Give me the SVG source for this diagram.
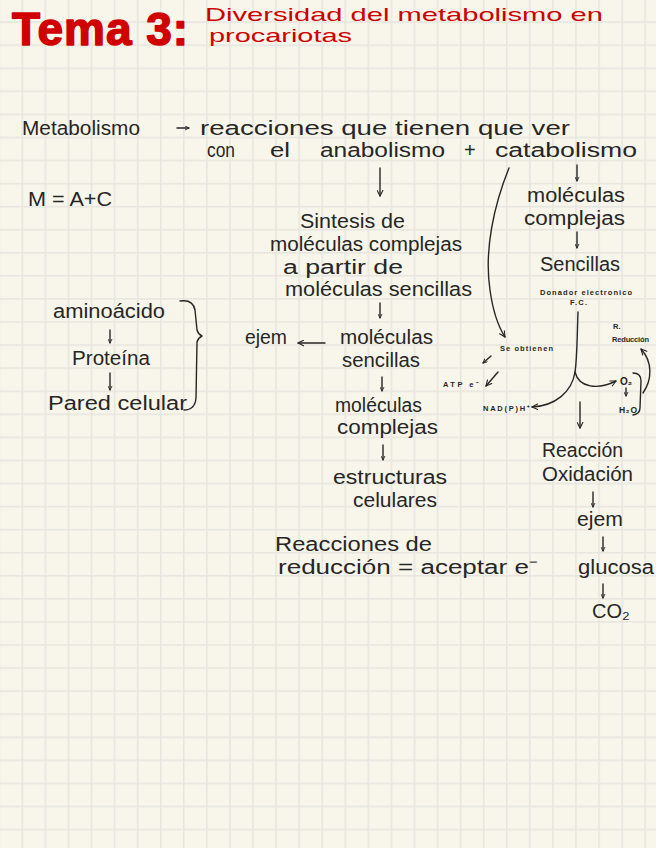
<svg xmlns="http://www.w3.org/2000/svg" width="656" height="848" viewBox="0 0 656 848">
<defs>
<pattern id="grid" patternUnits="userSpaceOnUse" x="21.5" y="21.3" width="23.07" height="23.07">
<rect x="0" y="0" width="23.07" height="23.07" fill="#f8f6ea"/>
<rect x="0" y="0" width="1.5" height="23.07" fill="#e6e5df"/>
<rect x="0" y="0" width="23.07" height="1.5" fill="#e6e5df"/>
</pattern>
<marker id="ah" viewBox="0 0 10 10" refX="9" refY="5" markerWidth="7" markerHeight="7" markerUnits="userSpaceOnUse" orient="auto">
<path d="M1,1 L9,5 L1,9" fill="none" stroke="#262626" stroke-width="1.6" stroke-linecap="round" stroke-linejoin="round"/>
</marker>
<marker id="ahs" viewBox="0 0 10 10" refX="9" refY="5" markerWidth="5" markerHeight="5" markerUnits="userSpaceOnUse" orient="auto">
<path d="M1,1 L9,5 L1,9" fill="none" stroke="#262626" stroke-width="1.8" stroke-linecap="round" stroke-linejoin="round"/>
</marker>
<style>
.h{font-family:"Liberation Sans",Arial,sans-serif;font-size:20px;fill:#262626}
.s{font-family:"Liberation Sans",Arial,sans-serif;font-size:7.5px;font-weight:bold;fill:#262626}
.r{font-family:"Liberation Sans",Arial,sans-serif;font-size:19px;fill:#cc0000}
.t{font-family:"Liberation Sans",Arial,sans-serif;font-size:46px;font-weight:bold;fill:#d10000;stroke:#d10000;stroke-width:1.5;stroke-linejoin:round}
.c{fill:none;stroke:#262626;stroke-width:1.4;stroke-linecap:round;stroke-linejoin:round}
</style>
</defs>
<rect x="0" y="0" width="656" height="848" fill="url(#grid)"/>

<g id="title">
<text class="t" x="12" y="45" textLength="176" lengthAdjust="spacing">Tema 3:</text>
<text class="r" x="205" y="20.5" textLength="398" lengthAdjust="spacingAndGlyphs">Diversidad del metabolismo en</text>
<text class="r" x="209" y="42" textLength="143" lengthAdjust="spacingAndGlyphs">procariotas</text>
</g>

<g id="metabolismo">
<text class="h" x="22" y="135" textLength="118" lengthAdjust="spacingAndGlyphs">Metabolismo</text>
</g>
<g id="definicion">
<text class="h" x="200" y="135" textLength="370" lengthAdjust="spacingAndGlyphs">reacciones que tienen que ver</text>
<text class="h" x="207" y="157" textLength="28" lengthAdjust="spacingAndGlyphs">con</text>
<text class="h" x="270" y="157" textLength="20" lengthAdjust="spacingAndGlyphs">el</text>
<text class="h" x="320" y="157" textLength="125" lengthAdjust="spacingAndGlyphs">anabolismo</text>
<text class="h" x="464" y="157">+</text>
<text class="h" x="495" y="157" textLength="142" lengthAdjust="spacingAndGlyphs">catabolismo</text>
</g>
<g id="formula">
<text class="h" x="28" y="206" textLength="84" lengthAdjust="spacingAndGlyphs">M = A+C</text>
</g>

<g id="anabolismo-chain">
<text class="h" x="300" y="228" textLength="105" lengthAdjust="spacingAndGlyphs">Sintesis de</text>
<text class="h" x="270" y="251" textLength="192" lengthAdjust="spacingAndGlyphs">moléculas complejas</text>
<text class="h" x="283" y="274" textLength="120" lengthAdjust="spacingAndGlyphs">a partir de</text>
<text class="h" x="285" y="296" textLength="187" lengthAdjust="spacingAndGlyphs">moléculas sencillas</text>
</g>
<g id="sencillas">
<text class="h" x="340" y="344" textLength="93" lengthAdjust="spacingAndGlyphs">moléculas</text>
<text class="h" x="342" y="367" textLength="78" lengthAdjust="spacingAndGlyphs">sencillas</text>
</g>
<g id="ejem-left">
<text class="h" x="245" y="344" textLength="42" lengthAdjust="spacingAndGlyphs">ejem</text>
</g>
<g id="complejas">
<text class="h" x="335" y="412" textLength="87" lengthAdjust="spacingAndGlyphs">moléculas</text>
<text class="h" x="337" y="434" textLength="101" lengthAdjust="spacingAndGlyphs">complejas</text>
</g>
<g id="estructuras">
<text class="h" x="333" y="484" textLength="114" lengthAdjust="spacingAndGlyphs">estructuras</text>
<text class="h" x="353" y="507" textLength="84" lengthAdjust="spacingAndGlyphs">celulares</text>
</g>
<g id="reduccion">
<text class="h" x="275" y="551" textLength="157" lengthAdjust="spacingAndGlyphs">Reacciones de</text>
<text class="h" x="278" y="574" textLength="260" lengthAdjust="spacingAndGlyphs">reducción = aceptar e⁻</text>
</g>

<g id="ejemplo-pared">
<text class="h" x="53" y="318" textLength="112" lengthAdjust="spacingAndGlyphs">aminoácido</text>
<text class="h" x="72" y="365" textLength="78" lengthAdjust="spacingAndGlyphs">Proteína</text>
<text class="h" x="48" y="410" textLength="139" lengthAdjust="spacingAndGlyphs">Pared celular</text>
<path class="c" d="M180,301 Q193,299 195,310 L197,330 Q198,334 202,336 Q198,338 197,342 L196,398 Q195,410 184,410"/>
</g>

<g id="catabolismo-chain">
<text class="h" x="527" y="202" textLength="98" lengthAdjust="spacingAndGlyphs">moléculas</text>
<text class="h" x="524" y="225" textLength="101" lengthAdjust="spacingAndGlyphs">complejas</text>
<text class="h" x="540" y="271" textLength="80" lengthAdjust="spacingAndGlyphs">Sencillas</text>
</g>
<g id="donador">
<text class="s" x="540" y="295" textLength="92" lengthAdjust="spacing">Donador electronico</text>
<text class="s" x="570" y="305" textLength="17" lengthAdjust="spacing">F.C.</text>
</g>
<g id="se-obtienen">
<text class="s" x="500" y="351" textLength="53" lengthAdjust="spacing">Se obtienen</text>
</g>
<g id="atp">
<text class="s" x="443" y="387" textLength="36" lengthAdjust="spacing">ATP e⁻</text>
</g>
<g id="nadph">
<text class="s" x="483" y="411" textLength="47" lengthAdjust="spacing">NAD(P)H⁺</text>
</g>
<g id="reduccion-r">
<text class="s" x="613" y="329">R.</text>
<text class="s" x="612" y="342" textLength="37" lengthAdjust="spacing">Reducción</text>
</g>
<g id="o2-h2o">
<text class="s" x="620" y="385" style="font-size:10px">O₂</text>
<text class="s" x="619" y="413" style="font-size:8.5px" textLength="18" lengthAdjust="spacing">H₂O</text>
<path class="c" d="M633,373 Q641,373 641,381 L640,408 Q640,414 633,415"/>
</g>
<g id="oxidacion">
<text class="h" x="542" y="457" textLength="81" lengthAdjust="spacingAndGlyphs">Reacción</text>
<text class="h" x="542" y="481" textLength="91" lengthAdjust="spacingAndGlyphs">Oxidación</text>
</g>
<g id="ejem-right">
<text class="h" x="577" y="526" textLength="46" lengthAdjust="spacingAndGlyphs">ejem</text>
</g>
<g id="glucosa">
<text class="h" x="578" y="574" textLength="76" lengthAdjust="spacingAndGlyphs">glucosa</text>
</g>
<g id="co2">
<text class="h" x="592" y="618">CO₂</text>
</g>

<g id="connectors">
<path class="c" d="M177,128 L189,128" marker-end="url(#ahs)"/>
<path class="c" d="M380,168 L380,196" marker-end="url(#ah)"/>
<path class="c" d="M577,165 L577,181" marker-end="url(#ahs)"/>
<path class="c" d="M577,232 L577,248" marker-end="url(#ahs)"/>
<path class="c" d="M380,303 L380,318" marker-end="url(#ahs)"/>
<path class="c" d="M325,343 L298,343" marker-end="url(#ah)"/>
<path class="c" d="M382,377 L382,391" marker-end="url(#ahs)"/>
<path class="c" d="M383,445 L383,460" marker-end="url(#ahs)"/>
<path class="c" d="M110,330 L110,343" marker-end="url(#ahs)"/>
<path class="c" d="M110,373 L110,390" marker-end="url(#ahs)"/>
<path class="c" d="M509,168 C494,205 484,250 490,290 C493,312 498,326 505,337" marker-end="url(#ah)"/>
<path class="c" d="M491,356 L483,363" marker-end="url(#ahs)"/>
<path class="c" d="M498,372 L486,386" marker-end="url(#ah)"/>
<path class="c" d="M578,312 C577,340 577,360 575,372 C572,392 555,406 532,407" marker-end="url(#ah)"/>
<path class="c" d="M575,372 C579,388 598,390 616,381" marker-end="url(#ah)"/>
<path class="c" d="M626,388 L626,396" marker-end="url(#ahs)"/>
<path class="c" d="M643,393 C652,380 653,362 641,349" marker-end="url(#ah)"/>
<path class="c" d="M580,402 L580,428" marker-end="url(#ah)"/>
<path class="c" d="M593,492 L593,507" marker-end="url(#ahs)"/>
<path class="c" d="M603,537 L603,551" marker-end="url(#ahs)"/>
<path class="c" d="M603,584 L603,598" marker-end="url(#ahs)"/>
</g>
</svg>
